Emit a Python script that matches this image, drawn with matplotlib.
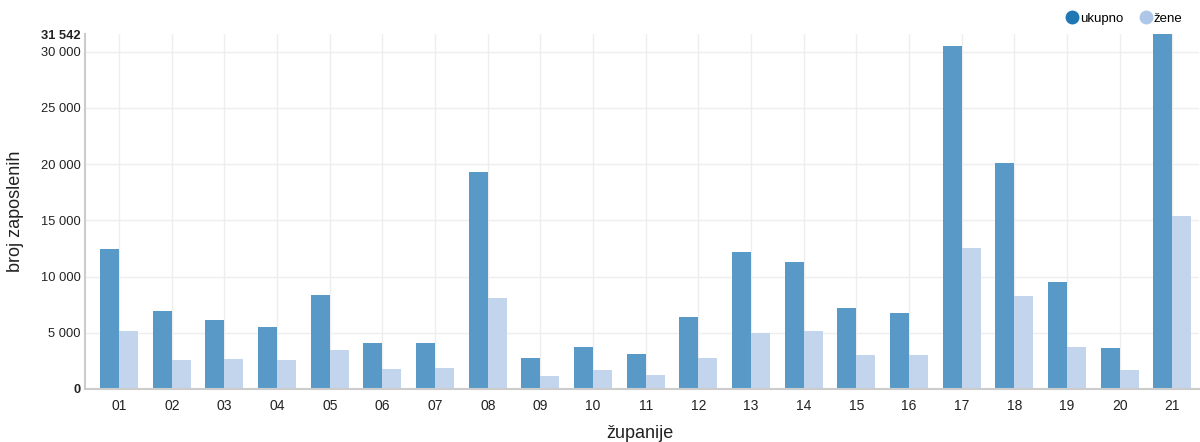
import numpy as np
import matplotlib.pyplot as plt
from matplotlib.lines import Line2D

plt.rcParams['font.family'] = ['Liberation Sans', 'DejaVu Sans']

zupanije = ['01', '02', '03', '04', '05', '06', '07', '08', '09', '10', '11',
            '12', '13', '14', '15', '16', '17', '18', '19', '20', '21']
ukupno = [12450, 6930, 6130, 5510, 8350, 4080, 4080, 19300, 2750, 3730, 3100,
          6400, 12180, 11290, 7200, 6750, 30510, 20100, 9510, 3640, 31542]
zene = [5150, 2570, 2660, 2570, 3460, 1770, 1860, 8090, 1150, 1680, 1240,
        2750, 4970, 5150, 3020, 3020, 12540, 8270, 3730, 1680, 15380]
y_ticks = [0, 5000, 10000, 15000, 20000, 25000, 30000, 31542]

dark = '#5899c8'
light = '#c3d5ec'

fig = plt.figure(figsize=(12, 4.42), dpi=100)
ax = fig.add_axes([0.0708, 0.1201, 0.928, 0.8021])

x = np.arange(len(zupanije))
w = 0.361
ax.bar(x - w / 2, ukupno, width=w, color=dark, zorder=2)
ax.bar(x + w / 2, zene, width=w, color=light, zorder=2)

ax.set_xlim(-0.65, 20.5)
ax.set_ylim(0, max(ukupno))

ax.set_xticks(x)
ax.set_xticklabels(zupanije, fontsize=10)
ax.set_yticks(y_ticks)
ax.set_yticklabels([f'{v:,}'.replace(',', ' ') for v in y_ticks], fontsize=9.3)
for lbl, v in zip(ax.get_yticklabels(), y_ticks):
    if v in (0, max(ukupno)):
        lbl.set_fontweight('bold')
ax.tick_params(axis='both', length=0, colors='#222222')
ax.tick_params(axis='y', pad=3)
ax.tick_params(axis='x', pad=7)

# grid lines only at the rounded ticks
for v in y_ticks[:-1]:
    ax.axhline(v, color='#eeeeee', lw=1, zorder=0)
for xi in x:
    ax.axvline(xi, color='#eeeeee', lw=1, zorder=0)

for side in ('top', 'right'):
    ax.spines[side].set_visible(False)
for side in ('left', 'bottom'):
    ax.spines[side].set_color('#cccccc')
    ax.spines[side].set_linewidth(1.5)

fig.text(640 / 1200, 1 - 433 / 442, 'županije', fontsize=13,
         ha='center', va='center', color='#222222')
fig.text(16 / 1200, 1 - 211 / 442, 'broj zaposlenih', fontsize=13,
         ha='center', va='center', rotation=90, color='#222222')

handles = [Line2D([], [], marker='o', ls='', color='#1f77b4', markersize=9),
           Line2D([], [], marker='o', ls='', color='#aec7e8', markersize=9)]
fig.legend(handles, ['ukupno', 'žene'], loc='upper right',
           bbox_to_anchor=(0.9955, 0.998), ncol=2, frameon=False,
           fontsize=9.5, handlelength=0.9, handletextpad=0.15,
           columnspacing=1.3)

fig.savefig('out.png', dpi=100)
